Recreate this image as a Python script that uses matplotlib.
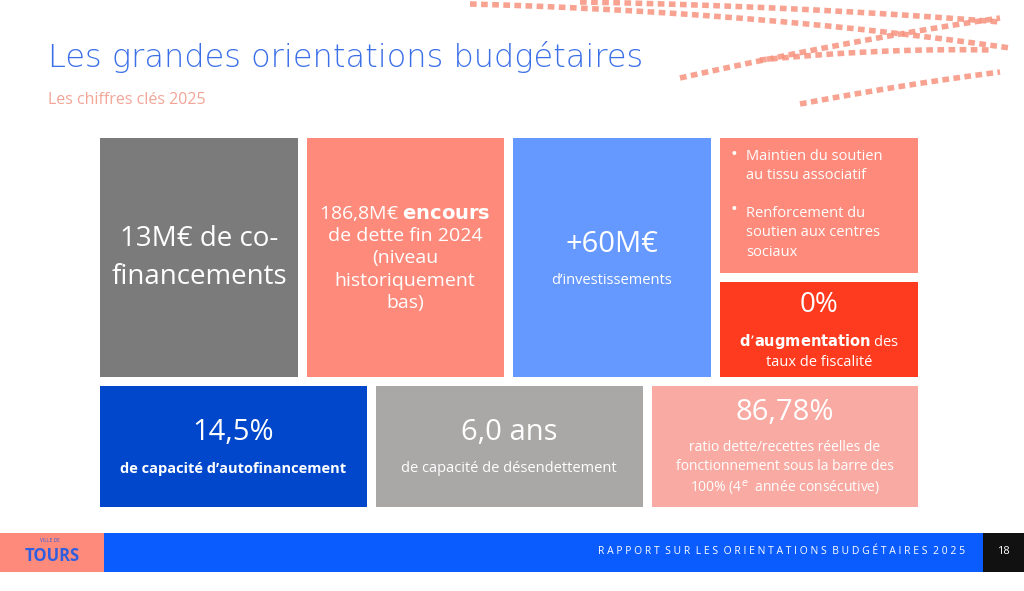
import matplotlib
matplotlib.use("Agg")
import matplotlib.pyplot as plt
from matplotlib.patches import Rectangle
import numpy as np

title = "Les grandes orientations budgétaires"
subtitle = "Les chiffres clés 2025"
tile_colors = ["#7b7b7b", "#fd8a7a", "#6699ff", "#fd8a7a", "#ff3b1f", "#0047cc", "#aaa7a7", "#f9aba3"]
footer_text = "RAPPORT SUR LES ORIENTATIONS BUDGÉTAIRES 2025"
page = "18"

fig = plt.figure(figsize=(10.24, 5.91), dpi=100)
ax = fig.add_axes([0, 0, 1, 1])
ax.set_xlim(0, 1024); ax.set_ylim(591, 0); ax.axis("off")
F = "Open Sans"

def rect(x0, y0, x1, y1, c):
    ax.add_patch(Rectangle((x0, y0), x1 - x0, y1 - y0, color=c, lw=0))

strokes = [((470, 4), (760, 12), (1010, 48)),
           ((580, 2), (800, 6), (1000, 22)),
           ((680, 78), (850, 40), (1000, 18)),
           ((800, 104), (900, 85), (1000, 72)),
           ((760, 60), (880, 48), (990, 50))]
for (p0, p1, p2) in strokes:
    t = np.linspace(0, 1, 50)
    x = (1-t)**2*p0[0] + 2*(1-t)*t*p1[0] + t**2*p2[0]
    y = (1-t)**2*p0[1] + 2*(1-t)*t*p1[1] + t**2*p2[1]
    ax.plot(x, y, color="#f7937f", lw=4, ls=(0, (1.2, 0.8)), alpha=0.85, solid_capstyle="round")

ax.text(48, 57, title, color="#3b6fe8", fontsize=23, family="DejaVu Sans", va="center", weight="light")
ax.text(48, 100, subtitle, color="#f2a597", fontsize=11.5, family=F, va="center")

boxes = [(100,138,298,377),(307,138,504,377),(513,138,711,377),(720,138,918,273),
         (720,282,918,377),(100,386,367,507),(376,386,643,507),(652,386,918,507)]
for b, c in zip(boxes, tile_colors):
    rect(*b, c)

W = "white"
ax.text(199, 258, "13M€ de co-\nfinancements", color=W, fontsize=20, family=F, ha="center", va="center", linespacing=1.5)
ax.text(405, 258, "186,8M€ $\\mathbf{encours}$\nde dette fin 2024\n(niveau\nhistoriquement\nbas)", color=W, fontsize=14, family=F, ha="center", va="center", linespacing=1.3)
ax.text(612, 245, "+60M€", color=W, fontsize=21, family=F, ha="center", va="center")
ax.text(612, 280, "d’investissements", color=W, fontsize=10.5, family=F, ha="center", va="center")
ax.text(730, 155, "•", color=W, fontsize=13, family=F, va="center")
ax.text(746, 166, "Maintien du soutien\nau tissu associatif", color=W, fontsize=10.5, family=F, va="center", linespacing=1.4)
ax.text(730, 210, "•", color=W, fontsize=13, family=F, va="center")
ax.text(746, 233, "Renforcement du\nsoutien aux centres\nsociaux", color=W, fontsize=10.5, family=F, va="center", linespacing=1.4)
ax.text(819, 305, "0%", color=W, fontsize=20, family=F, ha="center", va="center")
ax.text(819, 351, "$\\mathbf{d’augmentation}$ des\ntaux de fiscalité", color=W, fontsize=10.5, family=F, ha="center", va="center", linespacing=1.4)
ax.text(233, 433, "14,5%", color=W, fontsize=21, family=F, ha="center", va="center")
ax.text(233, 469, "de capacité d’autofinancement", color=W, fontsize=10.5, family=F, ha="center", va="center", weight="bold")
ax.text(509, 433, "6,0 ans", color=W, fontsize=21, family=F, ha="center", va="center")
ax.text(509, 469, "de capacité de désendettement", color=W, fontsize=10.5, family=F, ha="center", va="center")
ax.text(785, 413, "86,78%", color=W, fontsize=21, family=F, ha="center", va="center")
ax.text(785, 469, "ratio dette/recettes réelles de\nfonctionnement sous la barre des\n100% (4$^{e}$  année consécutive)", color=W, fontsize=10, family=F, ha="center", va="center", linespacing=1.35)

rect(0, 533, 104, 572, "#fd8a7a")
rect(104, 533, 983, 572, "#0a5cff")
rect(983, 533, 1024, 572, "#111111")
ax.text(52, 556, "TOURS", color="#2f5fe0", fontsize=12, family=F, ha="center", va="center", weight="bold")
ax.text(60, 541, "VILLE DE", color="#2f5fe0", fontsize=3.5, family=F, ha="right", va="center")
ax.text(965, 552, " ".join(footer_text).replace("   ", "  "), color=W, fontsize=7.5, family=F, ha="right", va="center")
ax.text(1003, 552, page, color=W, fontsize=8, family=F, ha="center", va="center")

fig.savefig("out.png", dpi=100)
